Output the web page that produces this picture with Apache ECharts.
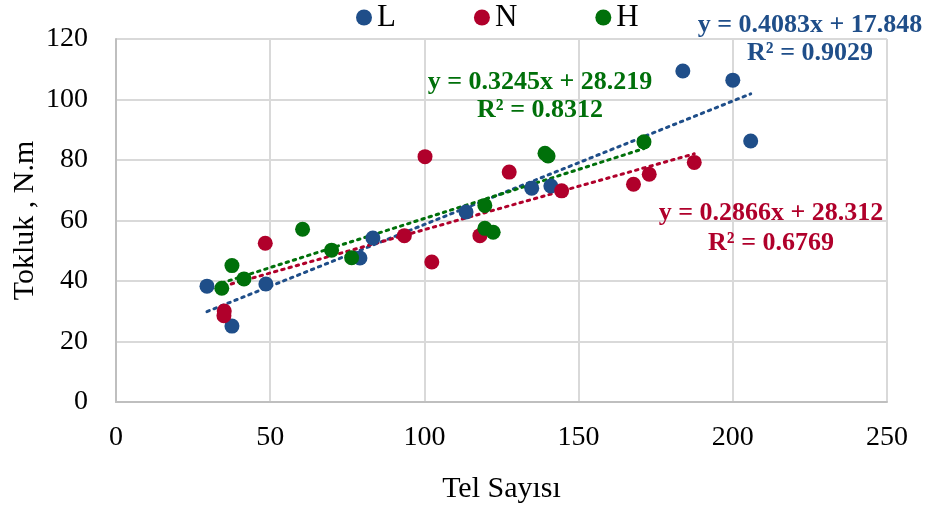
<!DOCTYPE html>
<html>
<head>
<meta charset="utf-8">
<script src="https://cdn.jsdelivr.net/npm/echarts@6/dist/echarts.min.js"></script>
<style>
  html, body { margin: 0; padding: 0; background: #fff; }
  #chart { width: 928px; height: 506px; }
</style>
</head>
<body>
<div id="chart"></div>
<script>
    // values
    var seriesNames = ['L', 'N', 'H']
    var colors = ['#1F4E89', '#B0002B', '#00700A']

    var lX = [29.5, 37.6, 48.6, 79.1, 83.3, 113.5, 134.8, 141.0, 183.8, 200.0, 205.8]
    var lY = [38.3, 25.1, 39.0, 47.6, 54.2, 62.8, 70.7, 71.4, 109.4, 106.4, 86.3]

    var nX = [35.1, 35.0, 48.4, 93.5, 100.2, 102.4, 118.0, 127.5, 144.5, 167.8, 172.9, 187.5]
    var nY = [30.1, 28.5, 52.5, 55.0, 81.1, 46.3, 55.0, 76.0, 69.8, 72.0, 75.3, 79.2]

    var hX = [34.3, 37.6, 41.5, 60.5, 69.9, 76.4, 119.6, 119.6, 122.3, 139.1, 140.1, 171.2]
    var hY = [37.6, 45.1, 40.7, 57.1, 50.2, 47.7, 65.0, 57.4, 56.1, 82.2, 81.3, 86.0]

    // trendline coefficients shown on the chart
    var slopes = [0.4083, 0.2866, 0.3245]
    var intercepts = [17.848, 28.312, 28.219]
    var r2 = ['0.9029', '0.6769', '0.8312']

    var font = "'Liberation Serif', 'Times New Roman', serif"

    function pairs(xs, ys) {
        return xs.map(function (x, i) { return [x, ys[i]] })
    }

    function trend(xs, k) {
        var lo = Math.min.apply(null, xs)
        var hi = Math.max.apply(null, xs)
        return [[lo, slopes[k] * lo + intercepts[k]], [hi, slopes[k] * hi + intercepts[k]]]
    }

    var allX = [lX, nX, hX]
    var allY = [lY, nY, hY]

    var series = []
    // trendlines first so the dots sit on top
    for (var k = 0; k < 3; k++) {
        series.push({
            name: seriesNames[k] + ' trend',
            type: 'line',
            data: trend(allX[k], k),
            symbol: 'none',
            silent: true,
            lineStyle: { color: colors[k], width: 3, type: [2.5, 5], cap: 'round' },
            z: 2
        })
    }
    for (var k = 0; k < 3; k++) {
        series.push({
            name: seriesNames[k],
            type: 'scatter',
            data: pairs(allX[k], allY[k]),
            symbol: 'circle',
            symbolSize: 15,
            itemStyle: { color: colors[k], opacity: 1 },
            z: 3
        })
    }

    function eqText(k, cx, y1, y2) {
        var style = { fill: colors[k], font: 'bold 26px ' + font, align: 'center', verticalAlign: 'middle' }
        return [
            { type: 'text', x: cx, y: y1, style: Object.assign({ text: 'y = ' + slopes[k].toFixed(4) + 'x + ' + intercepts[k].toFixed(3) }, style), z: 10 },
            { type: 'text', x: cx, y: y2, style: Object.assign({ text: 'R² = ' + r2[k] }, style), z: 10 }
        ]
    }

    var chart = echarts.init(document.getElementById('chart'))
    chart.setOption({
        animation: false,
        textStyle: { fontFamily: font },
        legend: {
            data: seriesNames,
            left: 351,
            top: -3,
            icon: 'circle',
            itemWidth: 16,
            itemHeight: 16,
            itemGap: 78,
            textStyle: { fontSize: 31, color: '#000', fontFamily: font }
        },
        grid: {
            left: 116,
            right: 41,
            top: 39,
            bottom: 104,
            outerBoundsMode: 'none'
        },
        xAxis: {
            type: 'value',
            min: 0,
            max: 250,
            interval: 50,
            name: 'Tel Sayısı',
            nameLocation: 'middle',
            nameGap: 72,
            nameMoveOverlap: false,
            nameTextStyle: { fontSize: 30, color: '#000', fontFamily: font },
            axisLine: { show: true, lineStyle: { color: '#bfbfbf', width: 2 } },
            axisTick: { show: false },
            axisLabel: { fontSize: 28, color: '#000', margin: 22, fontFamily: font },
            splitLine: { show: true, lineStyle: { color: '#d9d9d9', width: 2 } }
        },
        yAxis: {
            type: 'value',
            min: 0,
            max: 120,
            interval: 20,
            name: 'Tokluk , N.m',
            nameLocation: 'middle',
            nameGap: 76,
            nameMoveOverlap: false,
            nameTextStyle: { fontSize: 30, color: '#000', fontFamily: font },
            axisLine: { show: true, lineStyle: { color: '#bfbfbf', width: 2 } },
            axisTick: { show: false },
            axisLabel: { fontSize: 28, color: '#000', margin: 28, fontFamily: font },
            splitLine: { show: true, lineStyle: { color: '#d9d9d9', width: 2 } }
        },
        graphic: [].concat(
            eqText(0, 810, 25, 53),
            eqText(2, 540, 82, 110),
            eqText(1, 771, 213, 243)
        ),
        series: series
    })
</script>
</body>
</html>
